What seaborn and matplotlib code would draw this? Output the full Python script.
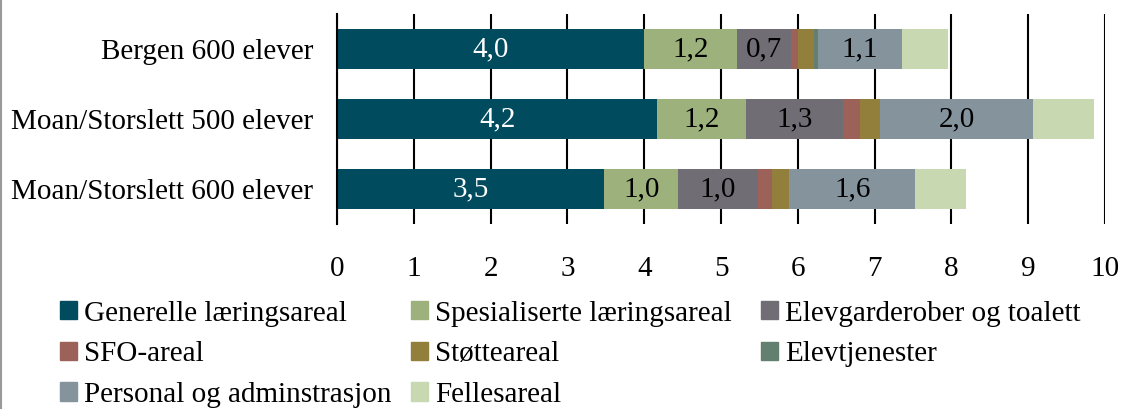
import numpy as np
import pandas as pd
import matplotlib.pyplot as plt
import matplotlib.patches as mpatches
import seaborn as sns

sns.set_theme(style="white")
plt.rcParams['font.family'] = ['Liberation Serif', 'DejaVu Serif']
plt.rcParams['text.color'] = 'black'

# data (areal per elev, m2)
schools = ['Bergen 600 elever', 'Moan/Storslett 500 elever', 'Moan/Storslett 600 elever']
categories = ['Generelle læringsareal', 'Spesialiserte læringsareal', 'Elevgarderober og toalett',
              'SFO-areal', 'Støtteareal', 'Elevtjenester', 'Personal og adminstrasjon', 'Fellesareal']
generelle = [4.00, 4.17, 3.48]
spesialiserte = [1.21, 1.16, 0.96]
garderober = [0.70, 1.26, 1.04]
sfo = [0.09, 0.22, 0.19]
stotte = [0.21, 0.26, 0.22]
elevtjenester = [0.05, 0.00, 0.00]
personal = [1.09, 1.99, 1.64]
felles = [0.61, 0.79, 0.66]
labelled = ['Generelle læringsareal', 'Spesialiserte læringsareal',
            'Elevgarderober og toalett', 'Personal og adminstrasjon']

colors = ['#004B5E', '#9CB17C', '#706E74', '#9C6159', '#937F3C', '#637F6F', '#84939C', '#C8D8B0']
FS = 21

df = pd.DataFrame([generelle, spesialiserte, garderober, sfo, stotte, elevtjenester, personal, felles],
                  index=categories, columns=schools).T
cum = df.cumsum(axis=1)

fig = plt.figure(figsize=(11.23, 4.09), dpi=100)
ax = fig.add_axes([0.3001, 0.4523, 0.6839, 0.5134])

# stacked bars: draw cumulative totals from the back
for cat, col in reversed(list(zip(categories, colors))):
    sns.barplot(x=cum[cat].values, y=schools, color=col, orient='h', width=0.56,
                errorbar=None, saturation=1, linewidth=0, ax=ax, zorder=3)

# value labels
for i, s in enumerate(schools):
    for cat in labelled:
        v = df.loc[s, cat]
        mid = cum.loc[s, cat] - v / 2
        txt = f'{v:.1f}'.replace('.', ',')
        ax.text(mid, i, txt, ha='center', va='center', fontsize=FS, zorder=5,
                color='white' if cat == categories[0] else 'black')

ax.set_xlim(0, 10)
ax.set_ylim(2.5, -0.5)
ax.set_xticks(range(0, 11))
ax.xaxis.grid(True, color='black', linewidth=1.5, zorder=0)
ax.yaxis.grid(False)
for sp in ['top', 'right', 'bottom']:
    ax.spines[sp].set_visible(False)
ax.spines['left'].set_color('black')
ax.spines['left'].set_linewidth(1.5)
ax.spines['left'].set_zorder(4)
ax.tick_params(axis='x', length=0, pad=23, labelsize=FS, labelcolor='black')
ax.tick_params(axis='y', length=0, pad=17, labelsize=FS, labelcolor='black')
ax.set_xlabel('')
ax.set_ylabel('')

# legend, three fixed columns
cols = [[0, 3, 6], [1, 4, 7], [2, 5]]
xpos = [0.0534, 0.366, 0.6776]
for xs, idx in zip(xpos, cols):
    handles = [mpatches.Patch(color=colors[k], label=categories[k]) for k in idx]
    fig.legend(handles=handles, loc='upper left', bbox_to_anchor=(xs, 0.265),
               frameon=False, fontsize=FS, handlelength=0.58, handleheight=0.58,
               handletextpad=0.24, labelspacing=0.5, borderpad=0, borderaxespad=0,
               labelcolor='black')

fig.add_artist(plt.Line2D([0.001, 0.001], [0, 1], color='#999999', linewidth=1.5,
                          transform=fig.transFigure))

fig.savefig('out.png', dpi=100)
